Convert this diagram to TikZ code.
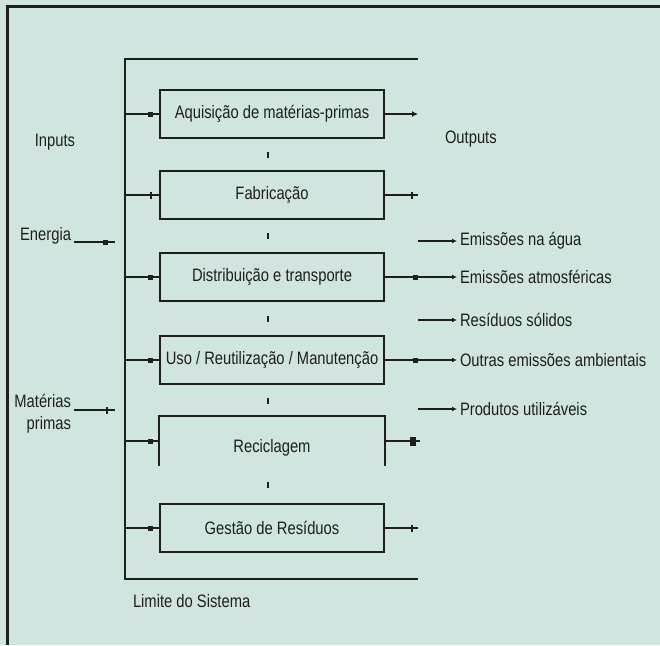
\documentclass[tikz,border=0pt]{standalone}
\usepackage{fontspec}
\setmainfont{Liberation Sans}[FakeStretch=0.82]
\usetikzlibrary{arrows.meta,calc,decorations.markings}
\definecolor{fundo}{RGB}{208,229,223}
\definecolor{traco}{RGB}{30,30,30}
\tikzset{
    etapa/.style = {draw = traco, line width = 2.2pt, minimum width = 224pt, minimum height = 48pt, inner sep = 0pt, text = traco, font = \fontsize{18}{22}\selectfont},
    borda/.style = {draw = traco, line width = 2.2pt},
    rotulo/.style = {inner sep = 0pt, outer sep = 3pt, text = traco, font = \fontsize{18}{22}\selectfont},
    limite/.style = {draw = traco, line width = 2.4pt},
    entrada/.style = {draw = traco, line width = 2pt},
    saida/.style = {draw = traco, line width = 2pt},
    passo/.style = {draw = traco, line width = 2.5pt},
    marcaq/.style = {postaction = {decorate, decoration = {markings, mark = at position -#1 with {\fill [traco] (-2.5pt, -2.5pt) rectangle (2.5pt, 2.5pt);}}}},
    marcag/.style = {postaction = {decorate, decoration = {markings, mark = at position -#1 with {\fill [traco] (-3pt, -4.5pt) rectangle (3pt, 4.5pt);}}}},
    marcat/.style = {postaction = {decorate, decoration = {markings, mark = at position -#1 with {\draw [traco, line width = 1.5pt] (0pt, -3.5pt) -- (0pt, 3.5pt);}}}},
    ponta/.style = {-{Latex[length = 5pt, width = 5pt]}}
}
\begin{document}
\begin{tikzpicture}[x = 1pt, y = -1pt]
    \fill [fundo] (0, 0) rectangle (660, 645);
    \useasboundingbox (0, 0) rectangle (660, 645);
    \draw [traco, line width = 3pt] (7, 645) -- (7, 6) -- (660, 6);
    \coordinate (lim) at (125, 59);
    \coordinate (lim dir) at (418, 59);
    \draw [limite] 
        (lim dir) -- (lim) -- (lim |- 0, 579) -- (lim dir |- 0, 579)
    ;
    \node [etapa] (b1) at (272, 114) {Aquisição de matérias-primas};
    \node [etapa] (b2) at (272, 195) {Fabricação};
    \node [etapa] (b3) at (272, 277) {Distribuição e transporte};
    \node [etapa] (b4) at (272, 360) {Uso / Reutilização / Manutenção};
    \node [etapa, draw = none, text height = 23pt, text depth = 0pt] (b5) at (272, 441) {Reciclagem};
    \node [etapa] (b6) at (272, 528) {Gestão de Resíduos};
    \draw [borda] (b5.south west) -- (b5.north west) -- (b5.north east) -- (b5.south east);
    \foreach \a/\b in {b1/b2, b2/b3, b3/b4, b4/b5, b5/b6}
        \draw [passo] ($(\a.south)!0.5!(\b.north) + (-4, -3)$) -- ++(0, 6);
    \foreach \n in {1, 3, 4, 5, 6}
        \draw [entrada, marcaq = 8pt] (lim |- b\n.west) -- (b\n.west);
    \draw [entrada, marcat = 8pt] (lim |- b2.west) -- (b2.west);
    \node [rotulo] (inp) at (55, 142) {Inputs};
    \node [rotulo, anchor = east] (en) at (74, 236) {Energia};
    \coordinate (en fim) at (115, 242);
    \draw [entrada, marcaq = 10pt] (en.east |- en fim) -- (en fim);
    \node [rotulo, anchor = east, align = right] (mp) at (74, 414) {Matérias\\primas};
    \coordinate (mp fim) at (115, 410);
    \draw [entrada, marcat = 8pt] (mp.east |- mp fim) -- (mp fim);
    \node [rotulo, anchor = west] (out) at (442, 139) {Outputs};
    \node [rotulo, anchor = west] (eag) at (457, 241) {Emissões na água};
    \node [rotulo, anchor = west] (ea) at (457, 277) {Emissões atmosféricas};
    \node [rotulo, anchor = west] (rs) at (457, 320) {Resíduos sólidos};
    \node [rotulo, anchor = west] (oa) at (457, 360) {Outras emissões ambientais};
    \node [rotulo, anchor = west] (pu) at (457, 409) {Produtos utilizáveis};
    \node [rotulo, anchor = west] (ls) at (130, 601) {Limite do Sistema};
    \draw [saida, -{Latex[length = 6pt, width = 6pt]}] (b1.east) -- (b1.east -| lim dir);
    \draw [saida, marcat = 6pt] (b2.east) -- (b2.east -| lim dir);
    \draw [saida, ponta, marcaq = 42pt] (b3.east) -- (ea.west);
    \draw [saida, ponta, marcaq = 42pt] (b4.east) -- (oa.west);
    \draw [saida, marcag = 7pt] (b5.east) -- ([xshift = 2pt]b5.east -| lim dir);
    \draw [saida, marcat = 6pt] (b6.east) -- (b6.east -| lim dir);
    \foreach \r in {eag, rs, pu}
        \draw [saida, ponta] (\r.west -| lim dir) -- (\r.west);
\end{tikzpicture}
\end{document}
